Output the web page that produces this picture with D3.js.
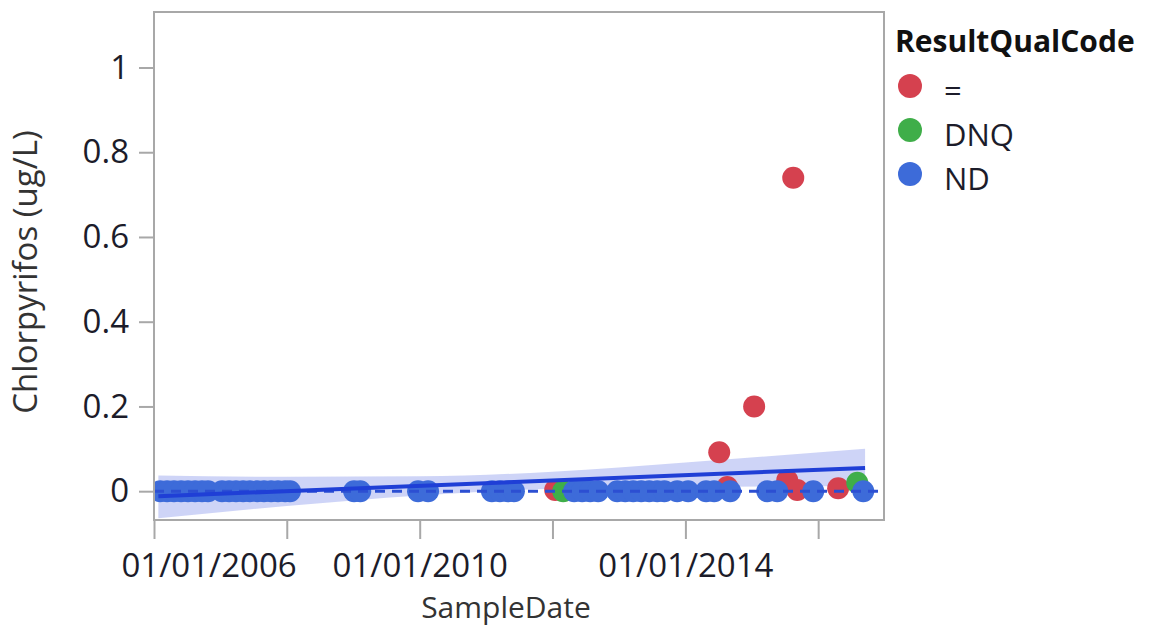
<!DOCTYPE html>
<html>
<head>
<meta charset="utf-8">
<script src="https://cdn.jsdelivr.net/npm/d3@7/dist/d3.min.js"></script>
<style>
  html, body { margin: 0; padding: 0; background: #fff; }
  svg { display: block; }
</style>
</head>
<body>
<svg id="chart" width="1161" height="629"></svg>
<script>
// ---------------- data ----------------
const categories = ["=", "DNQ", "ND"];
const categoryColors = ["#d5414f", "#3fae49", "#3d6bd9"];

const eqDates  = ["2012-01-16","2014-07-06","2014-08-19","2015-01-14","2015-07-15","2015-08-17","2015-09-08","2016-04-20"];
const eqValues = [0.003, 0.092, 0.010, 0.200, 0.026, 0.740, 0.003, 0.007];

const dnqDates  = ["2012-02-29","2016-08-03"];
const dnqValues = [0.000, 0.020];

const ndDates = [
  "2006-02-03","2006-03-14","2006-04-21","2006-05-30","2006-07-07","2006-08-15","2006-09-22","2006-10-25",
  "2007-01-10","2007-02-18","2007-03-28","2007-05-06","2007-06-13","2007-07-22","2007-08-29","2007-10-07","2007-11-14","2007-12-23","2008-01-19",
  "2009-01-05","2009-02-08",
  "2009-12-23","2010-02-16",
  "2011-02-02","2011-03-18","2011-05-01","2011-06-03",
  "2012-04-29","2012-06-12","2012-07-26","2012-09-08",
  "2012-12-22","2013-02-04","2013-03-20","2013-05-03","2013-06-16","2013-07-30","2013-09-07",
  "2013-11-17","2014-01-16",
  "2014-04-25","2014-06-08","2014-09-04",
  "2015-03-27","2015-05-21",
  "2015-12-05",
  "2016-09-05"
];
const ndValues = ndDates.map(() => 0);

// linear fit and its confidence band
const fitDates  = ["2006-01-25", "2016-09-15"];
const fitValues = [-0.012, 0.055];
const bandDates = ["2006-01-25","2008-01-01","2010-01-01","2012-01-01","2014-01-01","2016-09-15"];
const bandLower = [-0.064, -0.035, -0.010, 0.006, 0.010, 0.012];
const bandUpper = [0.037, 0.034, 0.035, 0.046, 0.068, 0.100];

const xTickDates = ["2006-01-01","2008-01-01","2010-01-01","2012-01-01","2014-01-01","2016-01-01"];
const xTickLabels = ["01/01/2006","","01/01/2010","","01/01/2014",""];
const yTicks = [0, 0.2, 0.4, 0.6, 0.8, 1];
const yTickLabels = ["0","0.2","0.4","0.6","0.8","1"];

const xDomain = ["2006-01-01", "2016-12-28"];
const yDomain = [-0.068, 1.131];

// ---------------- drawing ----------------
const parse = d3.timeParse("%Y-%m-%d");
const svg = d3.select("#chart");
const FONT = "'Open Sans', 'Noto Sans', sans-serif";
const plot = { left: 154, right: 884, top: 12, bottom: 520 };

const x = d3.scaleTime().domain(xDomain.map(parse)).range([plot.left, plot.right]);
const y = d3.scaleLinear().domain(yDomain).range([plot.bottom, plot.top]);

svg.append("defs").append("clipPath").attr("id", "clip")
  .append("rect")
  .attr("x", plot.left).attr("y", plot.top)
  .attr("width", plot.right - plot.left).attr("height", plot.bottom - plot.top);

const g = svg.append("g").attr("clip-path", "url(#clip)");

// confidence band
const bandData = bandDates.map((d, i) => ({ d: parse(d), lo: bandLower[i], hi: bandUpper[i] }));
g.append("path")
  .datum(bandData)
  .attr("d", d3.area().x(d => x(d.d)).y0(d => y(d.lo)).y1(d => y(d.hi)).curve(d3.curveMonotoneX))
  .attr("fill", "#4058e0").attr("fill-opacity", 0.26);

// points (drawn in legend order)
const groups = [
  { dates: eqDates, values: eqValues, color: categoryColors[0] },
  { dates: dnqDates, values: dnqValues, color: categoryColors[1] },
  { dates: ndDates, values: ndValues, color: categoryColors[2] }
];
groups.forEach(grp => {
  g.append("g").selectAll("circle")
    .data(grp.dates.map((d, i) => ({ d: parse(d), v: grp.values[i] })))
    .join("circle")
    .attr("cx", d => x(d.d)).attr("cy", d => y(d.v))
    .attr("r", 11).attr("fill", grp.color);
});

// dashed ND level line
g.append("path")
  .datum([parse(xDomain[0]), parse(xDomain[1])])
  .attr("d", d3.line().x(d => x(d)).y(() => y(0)))
  .attr("stroke", "#2c4fd2").attr("stroke-width", 3)
  .attr("stroke-dasharray", "10,7").attr("fill", "none");

// fit line
g.append("path")
  .datum(fitDates.map((d, i) => ({ d: parse(d), v: fitValues[i] })))
  .attr("d", d3.line().x(d => x(d.d)).y(d => y(d.v)))
  .attr("stroke", "#1f3fd6").attr("stroke-width", 4).attr("fill", "none");

// frame
svg.append("rect")
  .attr("x", plot.left).attr("y", plot.top)
  .attr("width", plot.right - plot.left).attr("height", plot.bottom - plot.top)
  .attr("fill", "none").attr("stroke", "#a8a8a8").attr("stroke-width", 2);

// x axis
const xAxis = d3.axisBottom(x)
  .tickValues(xTickDates.map(parse))
  .tickFormat((d, i) => xTickLabels[i])
  .tickSize(19).tickPadding(8);
const gx = svg.append("g").attr("transform", `translate(0,${plot.bottom})`).call(xAxis);
gx.select(".domain").remove();
gx.selectAll(".tick line").attr("stroke", "#a8a8a8").attr("stroke-width", 2);
gx.selectAll(".tick text")
  .attr("font-family", FONT).attr("font-size", 33).attr("fill", "#1c1c2a")
  .attr("dy", "0.92em");
// first label is kept inside the chart's left margin
gx.selectAll(".tick text").filter((d, i) => i === 0)
  .attr("text-anchor", "start").attr("x", -33);

// y axis
const yAxis = d3.axisLeft(y)
  .tickValues(yTicks)
  .tickFormat((d, i) => yTickLabels[i])
  .tickSize(15).tickPadding(10);
const gy = svg.append("g").attr("transform", `translate(${plot.left},0)`).call(yAxis);
gy.select(".domain").remove();
gy.selectAll(".tick line").attr("stroke", "#a8a8a8").attr("stroke-width", 2);
gy.selectAll(".tick text")
  .attr("font-family", FONT).attr("font-size", 33).attr("fill", "#1c1c2a");

// axis titles
svg.append("text")
  .attr("x", 506).attr("y", 618)
  .attr("text-anchor", "middle")
  .attr("font-family", FONT).attr("font-size", 30).attr("fill", "#333")
  .text("SampleDate");

svg.append("text")
  .attr("transform", "translate(37,272) rotate(-90)")
  .attr("text-anchor", "middle")
  .attr("font-family", FONT).attr("font-size", 33).attr("fill", "#333")
  .text("Chlorpyrifos (ug/L)");

// legend
const legend = svg.append("g");
legend.append("text")
  .attr("x", 895).attr("y", 52)
  .attr("font-family", FONT).attr("font-size", 30).attr("font-weight", "bold").attr("fill", "#111")
  .text("ResultQualCode");
categories.forEach((c, i) => {
  const cy = 86 + i * 44;
  legend.append("circle").attr("cx", 910).attr("cy", cy).attr("r", 12).attr("fill", categoryColors[i]);
  legend.append("text")
    .attr("x", 944).attr("y", cy + 16)
    .attr("font-family", FONT).attr("font-size", 31).attr("fill", "#1c1c2a")
    .text(c);
});
</script>
</body>
</html>
